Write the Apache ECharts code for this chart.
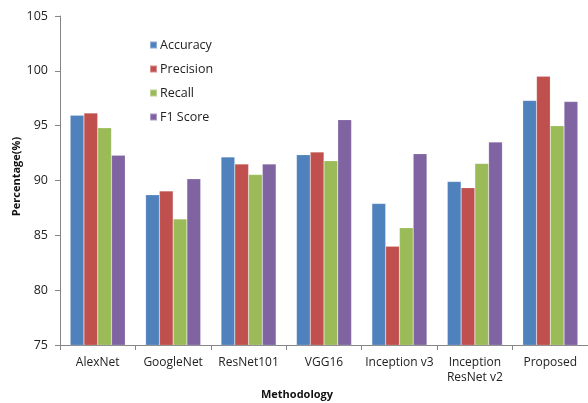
<!DOCTYPE html>
<html>
<head>
<meta charset="utf-8">
<script src="https://cdn.jsdelivr.net/npm/echarts@6/dist/echarts.min.js"></script>
<style>
  html, body { margin: 0; padding: 0; background: #fff; }
  #chart { width: 588px; height: 403px; }
</style>
</head>
<body>
<div id="chart"></div>
<script>
// Methods compared and their scores (%)
const categories = ['AlexNet', 'GoogleNet', 'ResNet101', 'VGG16', 'Inception v3', 'Inception\nResNet v2', 'Proposed'];
const accuracy  = [95.95, 88.7, 92.15, 92.35, 87.9, 89.9, 97.3];
const precision = [96.15, 89.05, 91.5, 92.6, 84.0, 89.35, 99.5];
const recall    = [94.8, 86.5, 90.55, 91.8, 85.7, 91.55, 95.0];
const f1Score   = [92.3, 90.15, 91.5, 95.55, 92.45, 93.5, 97.2];
const yTicks = [75, 80, 85, 90, 95, 100, 105];

const font = '"Open Sans", "Noto Sans", sans-serif';
const axisGrey = '#868686';

const seriesDefs = [
  { name: 'Accuracy',  data: accuracy,  color: '#4F81BD' },
  { name: 'Precision', data: precision, color: '#C0504D' },
  { name: 'Recall',    data: recall,    color: '#9BBB59' },
  { name: 'F1 Score',  data: f1Score,   color: '#8064A2' }
];

const chart = echarts.init(document.getElementById('chart'), null, { renderer: 'canvas' });
chart.setOption({
  animation: false,
  backgroundColor: '#fff',
  textStyle: { fontFamily: font },
  grid: { left: 60, right: 0, top: 16, bottom: 58, containLabel: false, outerBoundsMode: 'none' },
  legend: {
    orient: 'vertical',
    left: 144,
    top: 33,
    itemWidth: 7,
    itemHeight: 7,
    itemGap: 10,
    icon: 'rect',
    textStyle: { fontSize: 12.5, lineHeight: 14, color: '#222', fontFamily: font, padding: [0, 0, 0, -2] },
    data: seriesDefs.map(s => s.name)
  },
  xAxis: {
    type: 'category',
    data: categories,
    name: 'Methodology',
    nameLocation: 'middle',
    nameGap: 44,
    nameMoveOverlap: false,
    nameTextStyle: { fontWeight: 'bold', fontSize: 11, color: '#111', fontFamily: font, padding: [0, 54, 0, 0] },
    axisLine: { lineStyle: { color: axisGrey, width: 1 } },
    axisTick: { show: true, length: 5, lineStyle: { color: axisGrey } },
    axisLabel: { fontSize: 12, color: '#222', margin: 10, lineHeight: 15, interval: 0, fontFamily: font }
  },
  yAxis: {
    type: 'value',
    min: yTicks[0],
    max: yTicks[yTicks.length - 1],
    interval: 5,
    name: 'Percentage(%)',
    nameLocation: 'middle',
    nameGap: 38,
    nameMoveOverlap: false,
    nameTextStyle: { fontWeight: 'bold', fontSize: 11, color: '#111', fontFamily: font, padding: [0, 0, 0, 8] },
    splitLine: { show: false },
    axisLine: { show: true, lineStyle: { color: axisGrey, width: 1 } },
    axisTick: { show: true, length: 5, lineStyle: { color: axisGrey } },
    axisLabel: { fontSize: 12.5, color: '#222', margin: 12, fontFamily: font }
  },
  series: seriesDefs.map(s => ({
    name: s.name,
    type: 'bar',
    data: s.data,
    barGap: '0%',
    barCategoryGap: '27%',
    itemStyle: { color: s.color, borderColor: 'rgba(255,255,255,0.35)', borderWidth: 0.5 }
  }))
});
</script>
</body>
</html>
